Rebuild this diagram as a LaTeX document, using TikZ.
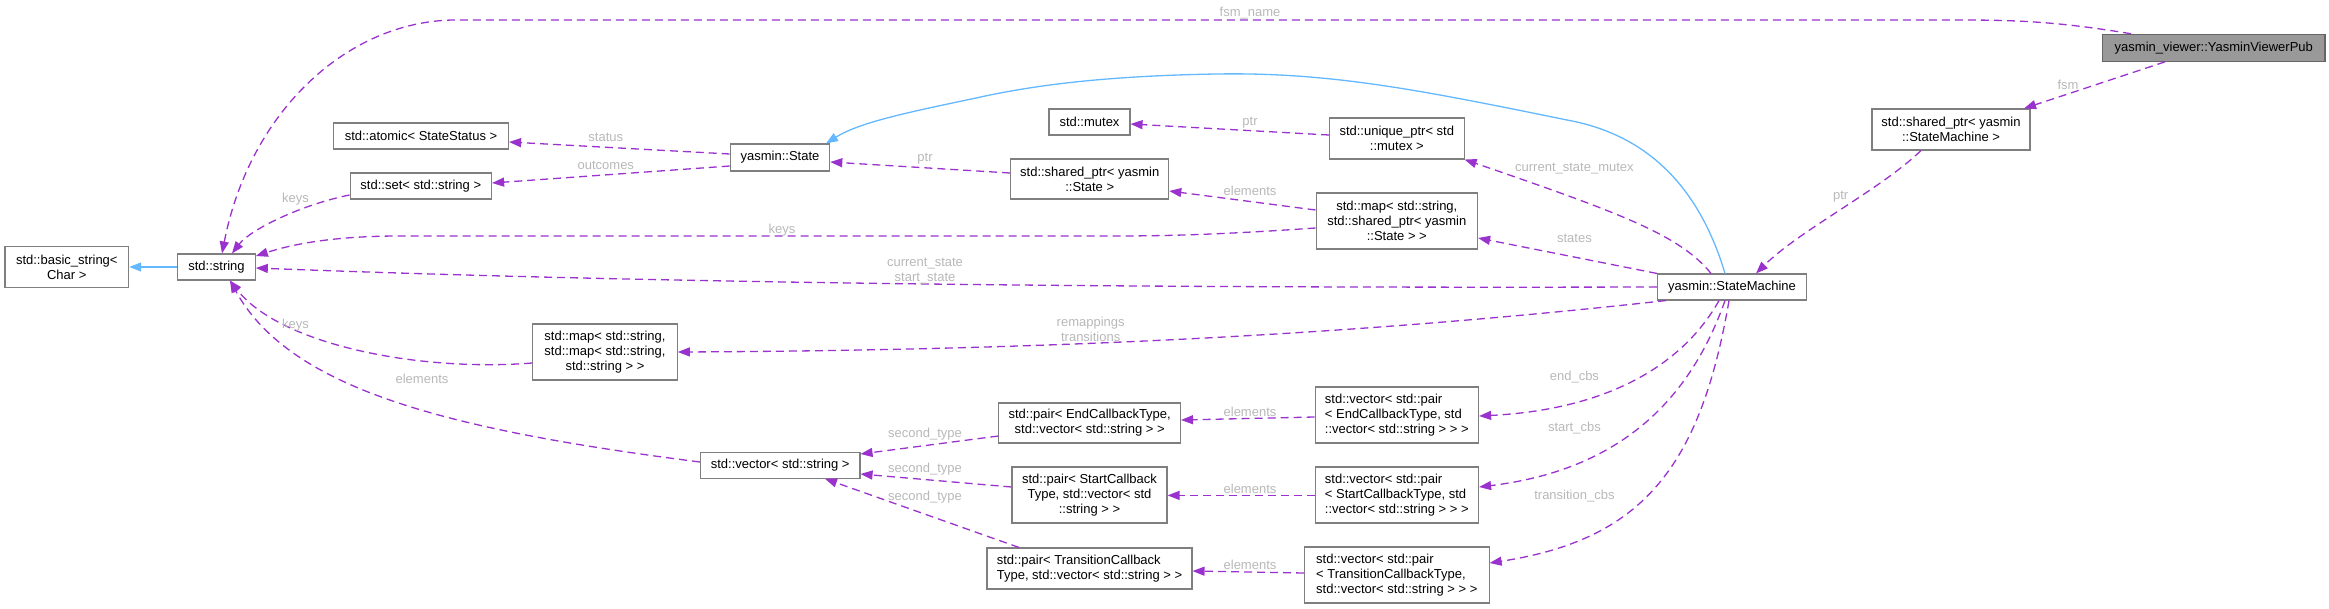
\documentclass[tikz,border=0pt]{standalone}
\usepackage{fontspec}
\setmainfont{Liberation Sans}
\usetikzlibrary{arrows.meta}
\definecolor{nodeborder}{HTML}{7F7F7F}
\definecolor{hilite}{HTML}{999999}
\definecolor{edgepurple}{HTML}{9A32CD}
\definecolor{edgeblue}{HTML}{63B8FF}
\definecolor{labelgray}{HTML}{B8B8B8}
\begin{document}
\begin{tikzpicture}[x=1pt,y=-1pt,
  box/.style={draw=nodeborder, line width=1.1pt, fill=white, inner sep=0pt, align=center,
    font=\fontsize{13pt}{15pt}\selectfont},
  lbox/.style={box, align=left},
  mainbox/.style={box, fill=hilite, draw=gray!80!black},
  elabel/.style={text=labelgray, inner sep=0pt, align=center, font=\fontsize{13pt}{15pt}\selectfont},
  uses/.style={draw=edgepurple, line width=1.3pt, dash pattern=on 8pt off 5pt,
    -{Triangle[length=12pt,width=9pt,fill=edgepurple]}},
  inherits/.style={draw=edgeblue, line width=1.3pt,
    -{Triangle[length=12pt,width=9pt,fill=edgeblue]}}
]
\useasboundingbox (0,0) rectangle (2329,608);

% nodes
\node[box, minimum width=123.7pt, minimum height=40.6pt] (bstr) at (66.8,267) {std::basic\_string<\\Char >};
\node[box, minimum width=77.6pt, minimum height=26pt] (str) at (216.5,267) {std::string};
\node[box, minimum width=175pt, minimum height=26pt] (atomic) at (421,136) {std::atomic< StateStatus >};
\node[box, minimum width=141.5pt, minimum height=26pt] (set) at (420.8,186) {std::set< std::string >};
\node[box, minimum width=144.6pt, minimum height=56pt] (mapmap) at (605,352) {std::map< std::string,\\std::map< std::string,\\std::string > >};
\node[box, minimum width=99.5pt, minimum height=27pt] (state) at (780,157.5) {yasmin::State};
\node[box, minimum width=81pt, minimum height=26pt] (mutex) at (1089.5,122) {std::mutex};
\node[box, minimum width=158pt, minimum height=40pt] (spstate) at (1089.7,179) {std::shared\_ptr< yasmin\\::State >};
\node[box, minimum width=134.5pt, minimum height=41pt] (uptr) at (1396.8,138.5) {std::unique\_ptr< std\\::mutex >};
\node[box, minimum width=161.5pt, minimum height=56pt] (mapsp) at (1396.8,221) {std::map< std::string,\\std::shared\_ptr< yasmin\\::State > >};
\node[box, minimum width=159.6pt, minimum height=25.5pt] (vstr) at (780.2,465.5) {std::vector< std::string >};
\node[box, minimum width=181.6pt, minimum height=40pt] (pend) at (1089.7,423) {std::pair< EndCallbackType,\\std::vector< std::string > >};
\node[box, minimum width=155pt, minimum height=56pt] (pstart) at (1089.5,495) {std::pair< StartCallback\\Type, std::vector< std\\::string > >};
\node[lbox, minimum width=205pt, minimum height=41pt] (ptrans) at (1089.5,568.5) {std::pair< TransitionCallback\\Type, std::vector< std::string > >};
\node[lbox, minimum width=163.5pt, minimum height=56pt] (vpend) at (1396.8,415) {std::vector< std::pair\\< EndCallbackType, std\\::vector< std::string > > >};
\node[lbox, minimum width=163.5pt, minimum height=56pt] (vpstart) at (1396.8,495) {std::vector< std::pair\\< StartCallbackType, std\\::vector< std::string > > >};
\node[lbox, minimum width=184.5pt, minimum height=56pt] (vptrans) at (1396.8,575) {std::vector< std::pair\\< TransitionCallbackType,\\std::vector< std::string > > >};
\node[mainbox, minimum width=222.3pt, minimum height=27pt] (vpub) at (2213.8,47.8) {yasmin\_viewer::YasminViewerPub};
\node[box, minimum width=158pt, minimum height=41pt] (spsm) at (1951,129.5) {std::shared\_ptr< yasmin\\::StateMachine >};
\node[box, minimum width=149pt, minimum height=26pt] (sm) at (1732,287) {yasmin::StateMachine};

% edges
\draw[uses] (vpub.north -| 2131,0) .. controls (2060,22) and (2020,20) .. (1960,20) -- (460,20)
  .. controls (350,18) and (250,110) .. (str.north -| 222,0);
\draw[uses] (vpub.south -| 2165,0) -- (spsm.north -| 2024,0);
\draw[uses] (spsm.south -| 1921,0) .. controls (1880,190) and (1800,230) .. (sm.north -| 1756,0);
\draw[inherits] (sm.north -| 1725,0) .. controls (1700,190) and (1650,135) .. (1567,120)
  .. controls (1420,90) and (1330,72) .. (1216,74)
  .. controls (1100,76) and (1030,86) .. (976,98)
  .. controls (910,112) and (860,122) .. (state.north -| 826,0);
\draw[uses] (sm.north -| 1711,0) .. controls (1680,235) and (1620,213) .. (uptr.south east);
\draw[uses] (sm.north west) -- (mapsp.east |- 0,238);
\draw[uses] (sm.west) .. controls (1200,288) and (700,285) .. (str.east |- 0,268);
\draw[uses] (mapsp.west |- 0,228) .. controls (1200,236) and (1150,236) .. (1100,236) -- (400,236)
  .. controls (330,236) and (290,245) .. (str.east |- 0,256);
\draw[uses] (mapsp.west |- 0,210) -- (spstate.east |- 0,191);
\draw[uses] (spstate.west |- 0,173) -- (state.east |- 0,162);
\draw[uses] (uptr.west |- 0,135) -- (mutex.east |- 0,124);
\draw[uses] (state.west |- 0,154) -- (atomic.east |- 0,142);
\draw[uses] (state.west |- 0,166) -- (set.east |- 0,183);
\draw[uses] (set.west |- 0,195) .. controls (300,205) and (250,230) .. (str.north -| 232,0);
\draw[uses] (sm.south -| 1666,0) .. controls (1400,330) and (1100,350) .. (mapmap.east);
\draw[uses] (mapmap.west |- 0,363) .. controls (420,372) and (280,345) .. (str.south -| 230,0);
\draw[uses] (vstr.west |- 0,462) .. controls (450,430) and (290,390) .. (str.south -| 230,0);
\draw[uses] (pend.west |- 0,436) -- (vstr.east |- 0,454);
\draw[uses] (pstart.west |- 0,487) -- (vstr.east |- 0,474);
\draw[uses] (ptrans.north -| 1019,0) -- (vstr.south -| 825,0);
\draw[uses] (vpend.west |- 0,417) -- (pend.east |- 0,420);
\draw[uses] (vpstart.west |- 0,495.4) -- (pstart.east |- 0,495.4);
\draw[uses] (vptrans.west |- 0,573) -- (ptrans.east |- 0,571);
\draw[uses] (sm.south -| 1719,0) .. controls (1680,370) and (1600,410) .. (vpend.east |- 0,416);
\draw[uses] (sm.south -| 1725,0) .. controls (1690,400) and (1620,470) .. (vpstart.east |- 0,487);
\draw[uses] (sm.south -| 1729,0) .. controls (1700,470) and (1640,540) .. (vptrans.east |- 0,563);
\draw[inherits] (str.west) -- (bstr.east);

% edge labels
\node[elabel] (l1) at (1250,13) {fsm\_name};
\node[elabel] (l2) at (2068,85) {fsm};
\node[elabel] (l3) at (1840.7,197) {ptr};
\node[elabel] (l4) at (1574.4,169) {current\_state\_mutex};
\node[elabel] (l5) at (1574.4,238) {states};
\node[elabel] (l6) at (925,271) {current\_state\\start\_state};
\node[elabel] (l7) at (782,230) {keys};
\node[elabel] (l8) at (1250,191) {elements};
\node[elabel] (l9) at (925,159) {ptr};
\node[elabel] (l10) at (1250,123) {ptr};
\node[elabel] (l11) at (605.8,137) {status};
\node[elabel] (l12) at (605.8,165) {outcomes};
\node[elabel] (l13) at (295.5,199) {keys};
\node[elabel] (l14) at (1090.7,329) {remappings\\transitions};
\node[elabel] (l15) at (295.5,325) {keys};
\node[elabel] (l16) at (422,379) {elements};
\node[elabel] (l17) at (925,434) {second\_type};
\node[elabel] (l18) at (925,469) {second\_type};
\node[elabel] (l19) at (925,497) {second\_type};
\node[elabel] (l20) at (1250,412) {elements};
\node[elabel] (l21) at (1250,489) {elements};
\node[elabel] (l22) at (1250,565) {elements};
\node[elabel] (l23) at (1574.4,377) {end\_cbs};
\node[elabel] (l24) at (1574.4,428) {start\_cbs};
\node[elabel] (l25) at (1574.4,496) {transition\_cbs};
\end{tikzpicture}
\end{document}
